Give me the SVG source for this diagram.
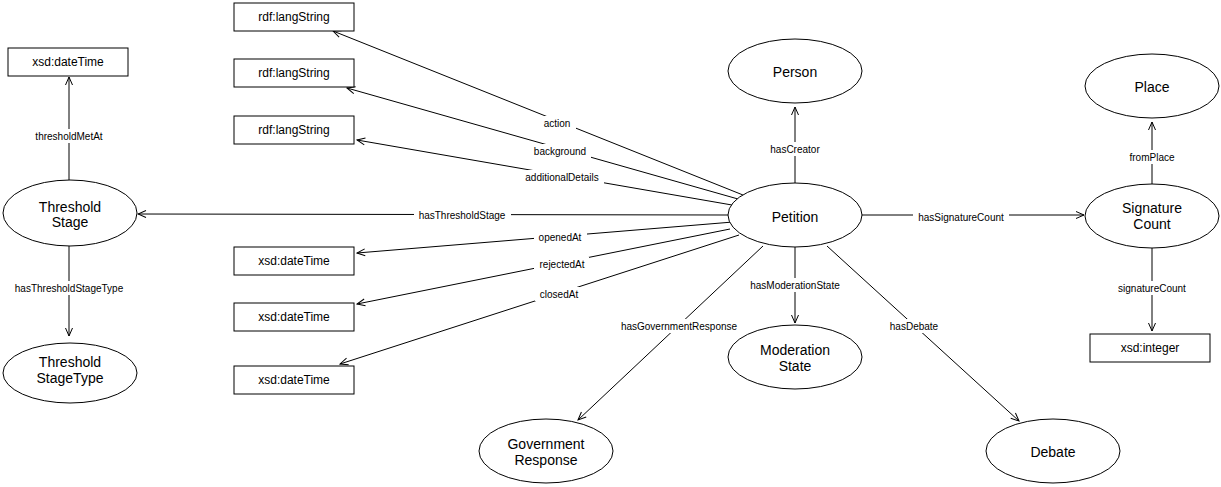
<svg xmlns="http://www.w3.org/2000/svg" width="1221" height="487" viewBox="0 0 1221 487">
<style>
.bg{fill:#fff}
.node ellipse,.node rect{fill:#fff;stroke:#000;stroke-width:1}
.nt{font-family:"Liberation Sans",Arial,sans-serif;font-size:14px;fill:#000;text-anchor:middle}
.bt{font-family:"Liberation Sans",Arial,sans-serif;font-size:12px;fill:#000;text-anchor:middle}
.edge line{stroke:#000;stroke-width:1;fill:none;marker-end:url(#arr)}
.lb rect{fill:#fff;stroke:none}
.lb text{font-family:"Liberation Sans",Arial,sans-serif;font-size:10px;fill:#000;text-anchor:middle}
</style>
<defs>
<marker id="arr" viewBox="0 0 10 10" refX="9" refY="5" markerWidth="10" markerHeight="10" markerUnits="userSpaceOnUse" orient="auto">
<path d="M1,1.5 L9,5 L1,8.5" fill="none" stroke="#000" stroke-width="1"/>
</marker>
</defs>
<rect class="bg" x="0" y="0" width="1221" height="487"/>
<g id="connectors">
<g class="edge">
<line x1="69" y1="180" x2="69" y2="77"/>
<line x1="69" y1="246" x2="69" y2="336"/>
<line x1="743" y1="195" x2="333" y2="31"/>
<line x1="738" y1="199" x2="347" y2="88"/>
<line x1="732" y1="205" x2="357" y2="140"/>
<line x1="728" y1="215" x2="138" y2="214"/>
<line x1="733" y1="222" x2="357" y2="253"/>
<line x1="730" y1="229" x2="357" y2="304"/>
<line x1="739" y1="235" x2="340" y2="364"/>
<line x1="795" y1="183" x2="795" y2="107"/>
<line x1="795" y1="247" x2="795" y2="323"/>
<line x1="763" y1="246" x2="578" y2="420"/>
<line x1="827" y1="246" x2="1019" y2="421"/>
<line x1="862" y1="215" x2="1084" y2="215"/>
<line x1="1152" y1="184" x2="1152" y2="122"/>
<line x1="1152" y1="248" x2="1152" y2="331"/>
</g>
<g class="lb">
<rect x="32" y="129" width="75" height="14"/><text x="69" y="139.5">thresholdMetAt</text>
<rect x="11" y="281" width="117" height="14"/><text x="69" y="291.5">hasThresholdStageType</text>
<rect x="539" y="116" width="37" height="14"/><text x="557" y="126.5">action</text>
<rect x="529" y="144" width="62" height="14"/><text x="560" y="154.5">background</text>
<rect x="520" y="170" width="84" height="14"/><text x="562" y="180.5">additionalDetails</text>
<rect x="414" y="208" width="97" height="14"/><text x="462" y="218.5">hasThresholdStage</text>
<rect x="534" y="230" width="53" height="14"/><text x="560" y="240.5">openedAt</text>
<rect x="534" y="257" width="55" height="14"/><text x="562" y="267.5">rejectedAt</text>
<rect x="535" y="287" width="48" height="14"/><text x="559" y="297.5">closedAt</text>
<rect x="765" y="142" width="60" height="14"/><text x="795" y="152.5">hasCreator</text>
<rect x="746" y="278" width="99" height="14"/><text x="795" y="288.5">hasModerationState</text>
<rect x="616" y="319" width="126" height="14"/><text x="679" y="329.5">hasGovernmentResponse</text>
<rect x="885" y="319" width="58" height="14"/><text x="914" y="329.5">hasDebate</text>
<rect x="913" y="210" width="96" height="14"/><text x="961" y="220.5">hasSignatureCount</text>
<rect x="1124" y="150" width="56" height="14"/><text x="1152" y="160.5">fromPlace</text>
<rect x="1113" y="281" width="78" height="14"/><text x="1152" y="291.5">signatureCount</text>
</g>
</g>
<g id="n_thresholdMetAt_dt" class="node"><rect x="8" y="48" width="120" height="28"/><text class="bt" x="68" y="66">xsd:dateTime</text></g>
<g id="n_thresholdStage" class="node"><ellipse cx="70" cy="213" rx="67" ry="33"/><text class="nt" x="70" y="212">Threshold</text><text class="nt" x="70" y="227">Stage</text></g>
<g id="n_thresholdStageType" class="node"><ellipse cx="70" cy="373" rx="67" ry="30"/><text class="nt" x="70" y="367">Threshold</text><text class="nt" x="70" y="383">StageType</text></g>
<g id="n_action" class="node"><rect x="234" y="3" width="120" height="28"/><text class="bt" x="294" y="21">rdf:langString</text></g>
<g id="n_background" class="node"><rect x="234" y="59" width="120" height="28"/><text class="bt" x="294" y="77">rdf:langString</text></g>
<g id="n_additionalDetails" class="node"><rect x="234" y="116" width="120" height="28"/><text class="bt" x="294" y="134">rdf:langString</text></g>
<g id="n_openedAt" class="node"><rect x="234" y="247" width="120" height="28"/><text class="bt" x="294" y="265">xsd:dateTime</text></g>
<g id="n_rejectedAt" class="node"><rect x="234" y="303" width="120" height="28"/><text class="bt" x="294" y="321">xsd:dateTime</text></g>
<g id="n_closedAt" class="node"><rect x="234" y="366" width="120" height="28"/><text class="bt" x="294" y="384">xsd:dateTime</text></g>
<g id="n_person" class="node"><ellipse cx="795" cy="71" rx="67" ry="32"/><text class="nt" x="795" y="77">Person</text></g>
<g id="n_petition" class="node"><ellipse cx="795" cy="215" rx="67" ry="32"/><text class="nt" x="795" y="222">Petition</text></g>
<g id="n_moderationState" class="node"><ellipse cx="795" cy="357" rx="67" ry="32"/><text class="nt" x="795" y="355">Moderation</text><text class="nt" x="795" y="371">State</text></g>
<g id="n_governmentResponse" class="node"><ellipse cx="546" cy="451" rx="67" ry="32"/><text class="nt" x="546" y="449">Government</text><text class="nt" x="546" y="465">Response</text></g>
<g id="n_debate" class="node"><ellipse cx="1053" cy="451" rx="67" ry="32"/><text class="nt" x="1053" y="457">Debate</text></g>
<g id="n_place" class="node"><ellipse cx="1152" cy="86" rx="67" ry="32"/><text class="nt" x="1152" y="92">Place</text></g>
<g id="n_signatureCount" class="node"><ellipse cx="1152" cy="216" rx="67" ry="32"/><text class="nt" x="1152" y="213">Signature</text><text class="nt" x="1152" y="229">Count</text></g>
<g id="n_integer" class="node"><rect x="1090" y="334" width="120" height="28"/><text class="bt" x="1150" y="352">xsd:integer</text></g>
</svg>
